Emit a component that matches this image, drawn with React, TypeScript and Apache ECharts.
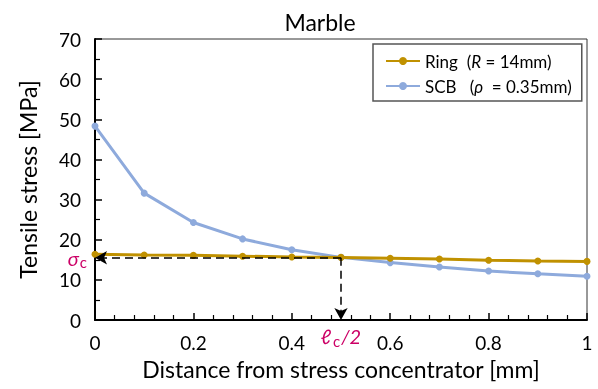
import React, { useEffect, useRef } from "react";
import * as echarts from "echarts";

const distances = [0, 0.1, 0.2, 0.3, 0.4, 0.5, 0.6, 0.7, 0.8, 0.9, 1.0];
const ringStress = [16.4, 16.2, 16.1, 15.9, 15.7, 15.6, 15.4, 15.2, 14.9, 14.7, 14.6];
const scbStress = [48.3, 31.6, 24.3, 20.2, 17.5, 15.6, 14.3, 13.2, 12.2, 11.5, 10.9];
const sigmaC = 15.5;
const halfLc = 0.5;

const FONT = "Lato";
const MAGENTA = "#cc0066";
const RING_COLOR = "#c09100";
const SCB_COLOR = "#8eaadc";

export default function App() {
  const ref = useRef<HTMLDivElement>(null);
  useEffect(() => {
    if (!ref.current) return;
    const chart = echarts.init(ref.current, null, { renderer: "svg" });
    const ringData = distances.map((d, i) => [d, ringStress[i]]);
    const scbData = distances.map((d, i) => [d, scbStress[i]]);
    chart.setOption({
      animation: false,
      textStyle: { fontFamily: FONT },
      title: {
        text: "Marble",
        left: 315,
        textAlign: "center",
        top: 5,
        textStyle: { fontFamily: FONT, fontSize: 23, fontWeight: "normal", color: "#000" },
      },
      grid: {
        left: 95,
        right: 11,
        top: 39,
        bottom: 69,
        show: true,
        borderColor: "#333",
        borderWidth: 1,
      },
      legend: {
        left: 373,
        top: 44,
        orient: "vertical",
        backgroundColor: "#fff",
        borderColor: "#555",
        borderWidth: 1.5,
        borderRadius: 0,
        padding: [7, 10, 5, 12],
        itemGap: 5,
        itemWidth: 34,
        itemHeight: 10,
        data: ["Ring", "SCB"],
        formatter: (name: string) =>
          name === "Ring"
            ? "{n|Ring  (}{i|R}{n| = 14mm)}"
            : "{n|SCB   (}{i|ρ}{n|  = 0.35mm)}",
        textStyle: {
          color: "#000",
          fontFamily: FONT,
          fontSize: 17,
          lineHeight: 20,
          rich: {
            n: { fontFamily: FONT, fontSize: 17, color: "#000", lineHeight: 20 },
            i: { fontFamily: FONT, fontSize: 17, color: "#000", fontStyle: "italic", lineHeight: 20 },
          },
        },
      },
      xAxis: {
        type: "value",
        min: 0,
        max: 1,
        interval: 0.2,
        name: "Distance from stress concentrator [mm]",
        nameLocation: "middle",
        nameGap: 37,
        nameTextStyle: { fontFamily: FONT, fontSize: 23, color: "#000" },
        axisLine: { show: true, onZero: false, lineStyle: { color: "#000", width: 2 } },
        axisTick: { show: true, inside: true, length: 7, lineStyle: { color: "#000", width: 1.5 } },
        minorTick: { show: true, splitNumber: 5, length: 5, lineStyle: { color: "#000", width: 1.2 } },
        splitLine: { show: false },
        axisLabel: {
          margin: 13,
          fontFamily: FONT,
          fontSize: 19,
          color: "#000",
          formatter: (v: number) => String(Math.round(v * 10) / 10),
        },
      },
      yAxis: {
        type: "value",
        min: 0,
        max: 70,
        interval: 10,
        name: "Tensile stress [MPa]",
        nameLocation: "middle",
        nameGap: 56,
        nameTextStyle: { fontFamily: FONT, fontSize: 23, color: "#000" },
        axisLine: { show: true, lineStyle: { color: "#000", width: 2 } },
        axisTick: { show: true, inside: true, length: 7, lineStyle: { color: "#000", width: 1.5 } },
        minorTick: { show: true, splitNumber: 2, length: 5, lineStyle: { color: "#000", width: 1.2 } },
        splitLine: { show: false },
        axisLabel: { margin: 14, fontFamily: FONT, fontSize: 19, color: "#000" },
      },
      series: [
        {
          name: "SCB",
          type: "line",
          data: scbData,
          color: SCB_COLOR,
          symbol: "circle",
          symbolSize: 7,
          lineStyle: { width: 3, color: SCB_COLOR },
          itemStyle: { color: SCB_COLOR },
          z: 3,
        },
        {
          name: "Ring",
          type: "line",
          data: ringData,
          color: RING_COLOR,
          symbol: "circle",
          symbolSize: 7,
          lineStyle: { width: 3, color: RING_COLOR },
          itemStyle: { color: RING_COLOR },
          z: 4,
          markLine: {
            silent: true,
            symbol: ["none", "arrow"],
            symbolSize: [10, 12],
            label: { show: false },
            lineStyle: { color: "#000", width: 1.5, type: [8, 5] },
            data: [
              [{ coord: [halfLc, sigmaC] }, { coord: [0, sigmaC] }],
              [{ coord: [halfLc, sigmaC] }, { coord: [halfLc, 0] }],
            ],
          },
          markPoint: {
            silent: true,
            symbol: "circle",
            symbolSize: 0,
            data: [
              {
                coord: [0, sigmaC],
                label: {
                  show: true,
                  position: "left",
                  distance: 8,
                  offset: [0, 0],
                  formatter: "{s|σ}{c|c}",
                  rich: {
                    s: { fontFamily: FONT, fontSize: 20, fontStyle: "italic", color: MAGENTA },
                    c: { fontFamily: FONT, fontSize: 15, color: MAGENTA, padding: [9, 0, 0, 1] },
                  },
                },
              },
              {
                coord: [halfLc, 0],
                label: {
                  show: true,
                  position: "bottom",
                  distance: 4,
                  formatter: "{s|ℓ}{c|c}{s|/2}",
                  rich: {
                    s: { fontFamily: FONT, fontSize: 20, fontStyle: "italic", color: MAGENTA },
                    c: { fontFamily: FONT, fontSize: 15, color: MAGENTA, padding: [9, 1, 0, 2] },
                  },
                },
              },
            ],
          },
        },
      ],
    });
    return () => chart.dispose();
  }, []);
  return (
    <div
      ref={ref}
      style={{ position: "fixed", left: 0, top: 0, width: 598, height: 389 }}
    />
  );
}
